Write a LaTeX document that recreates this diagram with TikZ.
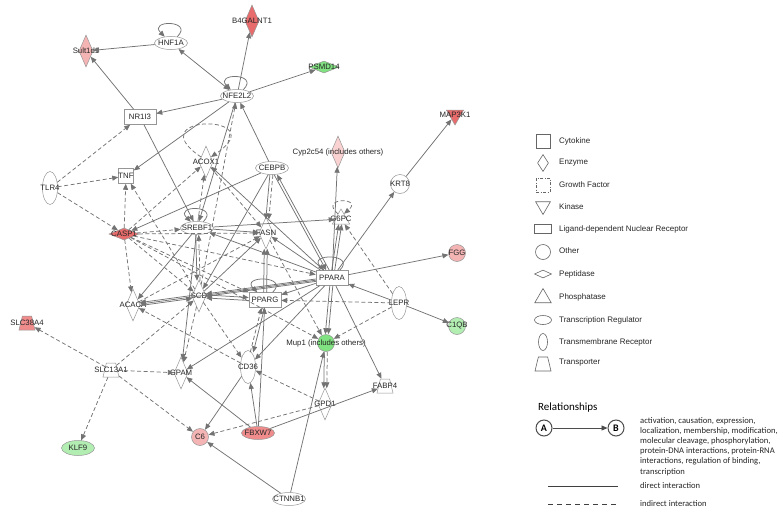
\documentclass[tikz,border=0pt]{standalone}
\usepackage{fontspec}
\setmainfont{Liberation Sans}
\newfontfamily\legendfont{Carlito}
\usepackage{xcolor}
\usetikzlibrary{arrows.meta, shapes.geometric, positioning}
\definecolor{edgegray}{RGB}{115,115,115}
\definecolor{shapegray}{RGB}{150,150,150}
\definecolor{upstrong}{RGB}{232,108,108}
\definecolor{upmid}{RGB}{240,140,140}
\definecolor{uplight}{RGB}{245,180,180}
\definecolor{upfaint}{RGB}{250,210,210}
\definecolor{downstrong}{RGB}{128,226,128}
\definecolor{downlight}{RGB}{178,238,178}

% shape node + its label on top
\newcommand{\gene}[4]{%
  \node[#1] (#2) at (#3) {};
  \node[genetext] (#2-txt) at (#2) {#4};}

\begin{document}
\begin{tikzpicture}[
        x=1pt, y=-1pt,
        >={Triangle[length=6pt, width=5pt]},
        genetext/.style = {font=\fontsize{7.8}{8}\selectfont, text=black!85, inner sep=0pt},
        legtext/.style = {font=\fontsize{8}{8}\selectfont, text=black!85, anchor=west, inner sep=0pt},
        reltext/.style = {font=\legendfont\fontsize{8.6}{10.2}\selectfont, text=black!85, inner sep=0pt},
        mol/.style = {draw=shapegray, line width=0.5pt, fill=white, inner sep=0pt},
        enzyme/.style = {mol, diamond, minimum width=14pt, minimum height=32pt},
        peptidase/.style = {mol, diamond, minimum width=30pt, minimum height=12pt},
        treg/.style = {mol, ellipse, minimum width=33pt, minimum height=13pt},
        tmrec/.style = {mol, ellipse, minimum width=15pt, minimum height=33pt},
        other/.style = {mol, circle, minimum size=17pt},
        ldnr/.style = {mol, rectangle, minimum width=32pt, minimum height=15pt},
        cytokine/.style = {mol, rectangle, minimum width=15pt, minimum height=15pt},
        kinase/.style = {mol, regular polygon, regular polygon sides=3, shape border rotate=180, minimum size=20pt},
        phosphatase/.style = {mol, regular polygon, regular polygon sides=3, minimum size=20pt},
        transporter/.style = {mol, trapezium, trapezium angle=70, trapezium stretches=true, inner sep=1pt, minimum width=16pt, minimum height=14pt},
        legshape/.style = {draw=black!60, line width=0.6pt, fill=white, inner sep=0pt},
        rel/.style = {draw=edgegray, line width=0.75pt, ->},
        irel/.style = {rel, dash pattern=on 4pt off 2.5pt},
        twin/.style = {transform canvas={shift={#1}}},
        selfloop/.style = {out=45, in=135, min distance=24pt},
        abnode/.style = {draw=black!70, line width=1pt, circle, minimum size=16pt, inner sep=0pt, font=\legendfont\bfseries\fontsize{10}{10}\selectfont}
    ]

        \useasboundingbox (0,0) rectangle (783,511);

        % network
        \gene{enzyme, fill=uplight}{sult1d1}{86,51}{Sult1d1}
        \gene{treg}{hnf1a}{171,43}{HNF1A}
        \gene{enzyme, fill=upstrong}{b4galnt1}{252,21}{B4GALNT1}
        \gene{treg}{nfe2l2}{237,96}{NFE2L2}
        \gene{peptidase, fill=downstrong}{psmd14}{324,67}{PSMD14}
        \gene{ldnr}{nr1i3}{140,117}{NR1I3}
        \gene{kinase, fill=upstrong}{map3k1}{455,115}{MAP3K1}
        \gene{cytokine}{tnf}{126,176}{TNF}
        \gene{tmrec}{tlr4}{50,188}{TLR4}
        \gene{enzyme}{acox1}{206,162}{ACOX1}
        \gene{treg}{cebpb}{272,168}{CEBPB}
        \gene{enzyme, fill=upfaint}{cyp2c54}{338,152}{Cyp2c54 (includes others)}
        \gene{other, minimum size=19pt}{krt8}{400,184}{KRT8}
        \gene{peptidase, fill=upstrong}{casp1}{124,234}{CASP1}
        \gene{treg}{srebf1}{197,228}{SREBF1}
        \gene{enzyme}{fasn}{266,233}{FASN}
        \gene{phosphatase}{g6pc}{341,219}{G6PC}
        \gene{ldnr}{ppara}{332,278}{PPARA}
        \gene{other, fill=uplight}{fgg}{457,253}{FGG}
        \gene{enzyme}{acaca}{133,305}{ACACA}
        \gene{enzyme}{scd}{199,296}{SCD}
        \gene{ldnr}{pparg}{265,300}{PPARG}
        \gene{tmrec}{lepr}{399,303}{LEPR}
        \gene{other, fill=downlight}{c1qb}{457,326}{C1QB}
        \gene{transporter, fill=upmid}{slc38a4}{27,323}{SLC38A4}
        \gene{other, fill=downstrong}{mup1}{326,343}{Mup1 (includes others)}
        \gene{transporter}{slc13a1}{111,370}{SLC13A1}
        \gene{enzyme}{gpam}{181,373}{GPAM}
        \gene{tmrec}{cd36}{248,367}{CD36}
        \gene{transporter}{fabp4}{385,386}{FABP4}
        \gene{enzyme}{gpd1}{325,404}{GPD1}
        \gene{other, fill=uplight}{c6}{200,437}{C6}
        \gene{treg, fill=upmid}{fbxw7}{258,433}{FBXW7}
        \gene{treg, fill=downlight, minimum height=15pt}{klf9}{78,448}{KLF9}
        \gene{treg}{ctnnb1}{289,499}{CTNNB1}

        % direct interactions
        \draw [rel] (hnf1a) to[selfloop] (hnf1a);
        \draw [rel] (nfe2l2) to[selfloop] (nfe2l2);
        \draw [rel] (srebf1) to[selfloop] (srebf1);
        \draw [rel] (ppara) to[selfloop] (ppara);
        \draw [rel] (pparg) to[selfloop] (pparg);
        \draw [rel] (hnf1a) -- (sult1d1);
        \draw [rel, <->] (nfe2l2) -- (hnf1a);
        \draw [rel] (nfe2l2) -- (b4galnt1);
        \draw [rel] (nfe2l2) -- (psmd14);
        \draw [rel] (nfe2l2) -- (nr1i3);
        \draw [rel] (nr1i3) -- (sult1d1);
        \draw [rel] (nfe2l2) -- (tnf);
        \draw [rel] (nr1i3) -- (srebf1);
        \draw [rel] (cebpb) -- (nfe2l2);
        \draw [rel] (nfe2l2) -- (srebf1);
        \draw [rel] (cebpb) -- (casp1);
        \draw [rel] (cebpb) -- (scd);
        \draw [rel, twin={(-1.5,0)}] (cebpb) -- (fasn);
        \draw [rel, twin={(-1.5,0)}] (cebpb) -- (ppara);
        \draw [rel, twin={(1.5,0)}] (ppara) -- (cebpb);
        \draw [rel] (ppara) -- (acox1);
        \draw [rel] (srebf1) -- (fasn);
        \draw [rel] (srebf1) -- (g6pc);
        \draw [rel] (ppara) -- (srebf1);
        \draw [rel, twin={(-1.5,0)}] (srebf1) -- (scd);
        \draw [rel] (srebf1) -- (acaca);
        \draw [rel] (srebf1) -- (gpam);
        \draw [rel, twin={(0,-1.5)}] (scd) -- (acaca);
        \draw [rel, twin={(0,1.5)}] (acaca) -- (scd);
        \draw [rel] (ppara) -- (acaca);
        \draw [rel, twin={(0,-1.2)}] (ppara) -- (scd);
        \draw [rel, twin={(0,1.2)}] (ppara) -- (scd);
        \draw [rel, twin={(0,-1.5)}] (scd) -- (pparg);
        \draw [rel, twin={(0,1.5)}] (pparg) -- (scd);
        \draw [rel] (ppara) -- (pparg);
        \draw [rel] (lepr) -- (ppara);
        \draw [rel] (lepr) -- (c1qb);
        \draw [rel] (ppara) -- (fgg);
        \draw [rel] (ppara) -- (krt8);
        \draw [rel] (krt8) -- (map3k1);
        \draw [rel] (ppara) -- (cyp2c54);
        \draw [rel, twin={(-1.5,0)}] (ppara) -- (g6pc);
        \draw [rel, twin={(1.5,0)}] (ppara) -- (g6pc);
        \draw [rel, twin={(-1.5,0)}] (ppara) -- (mup1);
        \draw [rel, twin={(1.5,0)}] (ppara) -- (mup1);
        \draw [rel, twin={(-1.5,0)}] (mup1) -- (gpd1);
        \draw [rel] (ctnnb1) -- (mup1);
        \draw [rel] (ctnnb1) -- (c6);
        \draw [rel] (ppara) -- (fabp4);
        \draw [rel] (fbxw7) -- (fabp4);
        \draw [rel] (fbxw7) -- (cd36);
        \draw [rel] (fbxw7) -- (pparg);
        \draw [rel] (fbxw7) -- (gpam);
        \draw [rel] (cd36) -- (c6);
        \draw [rel] (ppara) -- (gpam);
        \draw [rel, twin={(1.5,0)}] (pparg) -- (cd36);
        \draw [rel] (ppara) -- (cd36);
        \draw [rel] (ppara) -- (fasn);
        \draw [rel, twin={(-1.5,0)}] (pparg) -- (fasn);
        \draw [rel, twin={(1.5,0)}] (pparg) -- (fasn);
        \draw [rel] (scd) -- (fasn);

        % indirect interactions
        \draw [irel] (acox1.135) .. controls +(146:78pt) and +(34:78pt) .. (acox1.45);
        \draw [irel] (g6pc.120) .. controls +(140:26pt) and +(40:26pt) .. (g6pc.60);
        \draw [irel] (tlr4) -- (nr1i3);
        \draw [irel] (tlr4) -- (tnf);
        \draw [irel] (tlr4) -- (casp1);
        \draw [irel] (casp1) -- (tnf);
        \draw [irel] (scd) -- (tnf);
        \draw [irel] (casp1) -- (acox1);
        \draw [irel] (srebf1) -- (acox1);
        \draw [irel] (acox1) -- (fasn);
        \draw [irel] (scd) -- (nfe2l2);
        \draw [irel, twin={(1.5,0)}] (cebpb) -- (fasn);
        \draw [irel, twin={(1.5,0)}] (scd) -- (srebf1);
        \draw [irel] (casp1) -- (srebf1);
        \draw [irel] (casp1) -- (fasn);
        \draw [irel] (casp1) -- (ppara);
        \draw [irel] (casp1) -- (pparg);
        \draw [irel] (casp1) -- (scd);
        \draw [irel] (casp1) -- (acaca);
        \draw [irel] (casp1) -- (mup1);
        \draw [irel] (acaca) -- (fasn);
        \draw [irel] (cd36) -- (acaca);
        \draw [irel] (gpd1) -- (cd36);
        \draw [irel] (lepr) -- (pparg);
        \draw [irel] (lepr) -- (mup1);
        \draw [irel] (lepr) -- (g6pc);
        \draw [irel, twin={(1.5,0)}] (mup1) -- (gpd1);
        \draw [irel] (gpd1) -- (c6);
        \draw [irel] (slc13a1) -- (c6);
        \draw [irel] (slc13a1) -- (gpam);
        \draw [irel] (slc13a1) -- (klf9);
        \draw [irel] (slc13a1) -- (slc38a4);
        \draw [irel] (slc13a1) -- (scd);
        \draw [irel] (scd) -- (gpam);
        \draw [irel, twin={(-1.5,0)}] (cd36) -- (pparg);
        \draw [irel] (scd) -- (cd36);
        \draw [irel] (fasn) -- (mup1);

        % legend of shapes
        \node[legshape, rectangle, minimum size=14pt] (lg-cyt) at (543,141) {};
        \node[legtext] (lg-cyt-t) at (559,141) {Cytokine};
        \node[legshape, diamond, minimum width=11pt, minimum height=17pt] (lg-enz) at (543,163) {};
        \node[legtext] (lg-enz-t) at (559,163) {Enzyme};
        \node[legshape, rectangle, minimum size=14pt, dash pattern=on 3pt off 1.5pt on 1pt off 1.5pt] (lg-gf) at (543,185) {};
        \node[legtext] (lg-gf-t) at (559,185) {Growth Factor};
        \node[legshape, regular polygon, regular polygon sides=3, shape border rotate=180, minimum size=17pt] (lg-kin) at (543,206) {};
        \node[legtext] (lg-kin-t) at (559,207) {Kinase};
        \node[legshape, rectangle, minimum width=17pt, minimum height=9pt] (lg-ldnr) at (543,229) {};
        \node[legtext] (lg-ldnr-t) at (559,229) {Ligand-dependent Nuclear Receptor};
        \node[legshape, circle, minimum size=15pt] (lg-oth) at (543,252) {};
        \node[legtext] (lg-oth-t) at (559,251) {Other};
        \node[legshape, diamond, minimum width=17pt, minimum height=8pt] (lg-pep) at (543,274) {};
        \node[legtext] (lg-pep-t) at (559,274) {Peptidase};
        \node[legshape, regular polygon, regular polygon sides=3, minimum size=19pt] (lg-pho) at (543,298) {};
        \node[legtext] (lg-pho-t) at (559,297) {Phosphatase};
        \node[legshape, ellipse, minimum width=17pt, minimum height=9pt] (lg-tr) at (543,320) {};
        \node[legtext] (lg-tr-t) at (559,320) {Transcription Regulator};
        \node[legshape, ellipse, minimum width=9pt, minimum height=17pt] (lg-tm) at (543,342) {};
        \node[legtext] (lg-tm-t) at (559,342) {Transmembrane Receptor};
        \node[legshape, trapezium, trapezium angle=70, trapezium stretches=true, inner sep=1pt, minimum width=16pt, minimum height=14pt] (lg-tp) at (543,364) {};
        \node[legtext] (lg-tp-t) at (559,363) {Transporter};

        % legend of relationships
        \node[anchor=west, inner sep=0pt, font=\legendfont\fontsize{11}{12}\selectfont] (rel-title) at (538,408) {Relationships};
        \node[abnode] (lg-a) at (544,428) {A};
        \node[abnode] (lg-b) at (616,428) {B};
        \draw [draw=black!70, line width=0.9pt, ->] (lg-a) -- (lg-b);
        \node[reltext, anchor=north west, align=left] (rel-kinds) at (640,417) {activation, causation, expression,\\localization, membership, modification,\\molecular cleavage, phosphorylation,\\protein-DNA interactions, protein-RNA\\interactions, regulation of binding,\\transcription};
        \coordinate (dir-a) at (548,486);
        \coordinate (dir-b) at (618,486);
        \draw [draw=black!75, line width=1pt] (dir-a) -- (dir-b);
        \node[reltext, anchor=west] (dir-t) at (640,486) {direct interaction};
        \coordinate (ind-a) at (548,504);
        \coordinate (ind-b) at (618,504);
        \draw [draw=black!75, line width=1pt, dash pattern=on 5pt off 4pt] (ind-a) -- (ind-b);
        \node[reltext, anchor=west] (ind-t) at (640,504) {indirect interaction};

    \end{tikzpicture}
\end{document}
